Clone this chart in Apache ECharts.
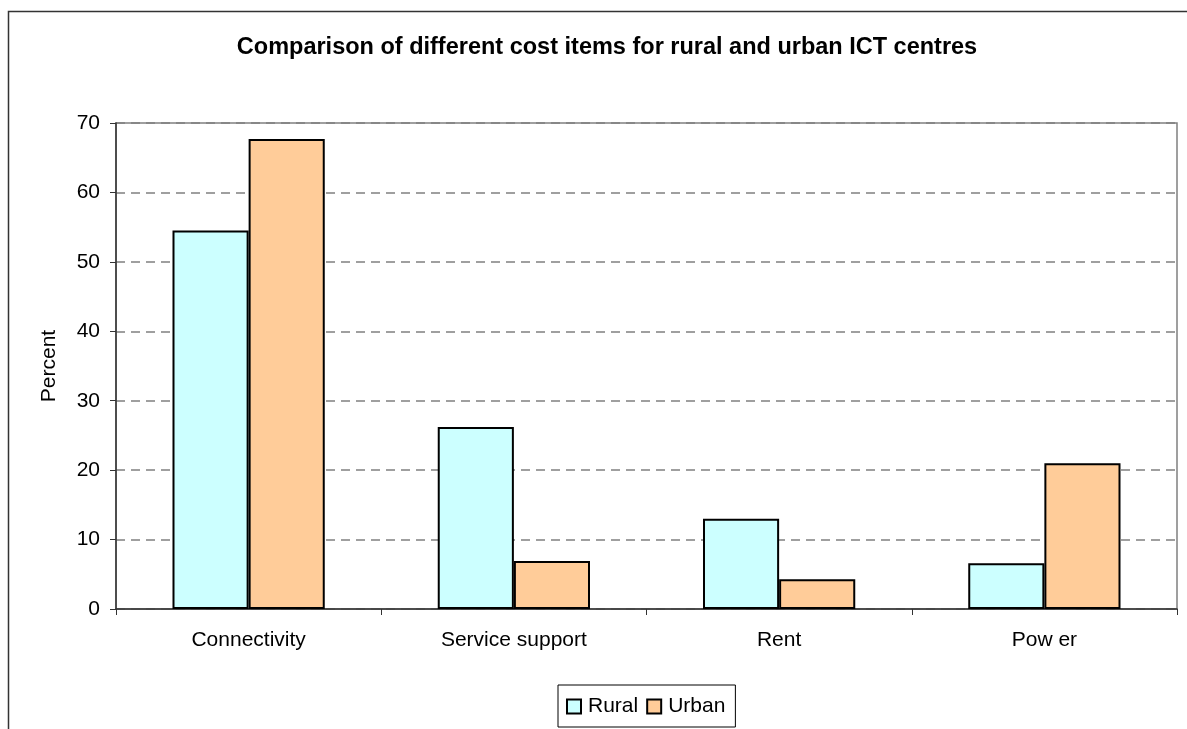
<!DOCTYPE html>
<html>
<head>
<meta charset="utf-8">
<script src="https://cdn.jsdelivr.net/npm/echarts@6/dist/echarts.min.js"></script>
<style>
html,body{margin:0;padding:0;background:#fff;}
#chart{width:1187px;height:729px;}
</style>
</head>
<body>
<div id="chart"></div>
<script>
const titleText = 'Comparison of different cost items for rural and urban ICT centres';
const categories = ['Connectivity', 'Service support', 'Rent', 'Pow er'];
const seriesNames = ['Rural', 'Urban'];
const rural = [54.5, 26.2, 13.0, 6.6];
const urban = [67.7, 6.9, 4.3, 21.0];
const yTicks = [0, 10, 20, 30, 40, 50, 60, 70];

const FONT = '"Liberation Sans", Arial, sans-serif';
const chart = echarts.init(document.getElementById('chart'), null, {renderer: 'canvas'});
chart.setOption({
  animation: false,
  backgroundColor: '#fff',
  textStyle: {fontFamily: FONT, color: '#000'},
  graphic: [{
    type: 'rect', z: -1, silent: true,
    shape: {x: 8.5, y: 11.5, width: 1200, height: 730},
    style: {fill: 'none', stroke: '#333', lineWidth: 1.5}
  }],
  title: {
    text: titleText,
    left: 602, top: 31, textAlign: 'center',
    textStyle: {fontFamily: FONT, fontWeight: 'bold', fontSize: 23.5, color: '#000'}
  },
  grid: {
    left: 116, right: 10, top: 123, bottom: 120,
    show: true, borderColor: '#808080', borderWidth: 1.5, backgroundColor: 'transparent'
  },
  legend: {
    data: seriesNames,
    left: 558, top: 685,
    padding: [11, 10, 10, 8],
    itemWidth: 14, itemHeight: 14, itemGap: 8,
    icon: 'rect',
    borderColor: '#000', borderWidth: 1,
    itemStyle: {borderColor: '#000', borderWidth: 2},
    textStyle: {fontFamily: FONT, fontSize: 21, color: '#000', padding: [0, 0, 0, 2]}
  },
  xAxis: {
    type: 'category',
    data: categories,
    axisLine: {show: true, lineStyle: {color: '#333', width: 1.5}},
    axisTick: {show: true, length: 6, lineStyle: {color: '#333'}},
    axisLabel: {fontFamily: FONT, fontSize: 21, color: '#000', margin: 21}
  },
  yAxis: {
    type: 'value',
    min: yTicks[0], max: yTicks[yTicks.length - 1], interval: 10,
    name: 'Percent', nameLocation: 'middle', nameRotate: 90, nameGap: 56,
    nameTextStyle: {fontFamily: FONT, fontSize: 21, color: '#000'},
    axisLine: {show: true, lineStyle: {color: '#333', width: 1.5}},
    axisTick: {show: true, length: 6, lineStyle: {color: '#333'}},
    axisLabel: {fontFamily: FONT, fontSize: 21, color: '#000', margin: 16},
    splitLine: {show: true, lineStyle: {color: '#808080', type: [9, 6], width: 1.5}}
  },
  series: [
    {
      name: seriesNames[0], type: 'bar', data: rural,
      barGap: '0%', barCategoryGap: '42.6%',
      itemStyle: {color: '#CCFFFF', borderColor: '#000', borderWidth: 2}
    },
    {
      name: seriesNames[1], type: 'bar', data: urban,
      barGap: '0%', barCategoryGap: '42.6%',
      itemStyle: {color: '#FFCC99', borderColor: '#000', borderWidth: 2}
    }
  ]
});
</script>
</body>
</html>
